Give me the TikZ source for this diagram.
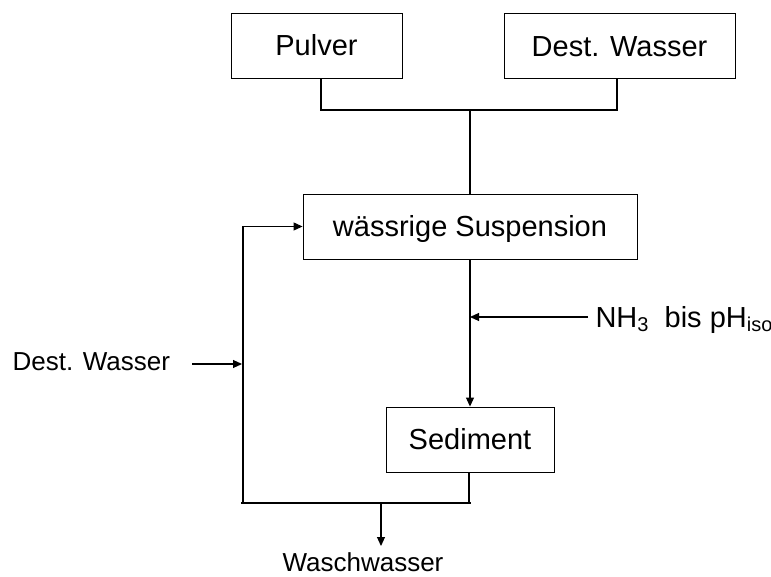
\documentclass[tikz,border=0pt]{standalone}
\usepackage{fontspec}
\setmainfont{Liberation Sans}
\usetikzlibrary{arrows.meta}
% lowered subscript set in a fixed smaller size
\newcommand\lowidx[1]{\raisebox{-4pt}{\fontsize{20}{20}\selectfont #1}}
\begin{document}
\begin{tikzpicture}[x=1pt,y=-1pt,
  line width=1.1pt,
  box/.style={draw, line width=0.9pt, inner sep=0pt, minimum height=65pt,
    text height=20.8pt, text depth=0pt, font=\fontsize{29}{34}\selectfont},
  lbl/.style={inner sep=0pt, font=\fontsize{26}{31}\selectfont},
  tip/.style={-{Triangle[length=9pt,width=8pt]}}]
\useasboundingbox (0,0) rectangle (771,577);

% process boxes
\node[box, minimum width=171pt] (pulver) at (316.5,45.5) {Pulver};
\node[box, minimum width=231pt] (dest)   at (619.5,46)   {Dest. Wasser};
\node[box, minimum width=334pt] (susp)   at (470,226.5)  {wässrige Suspension};
\node[box, minimum width=168pt] (sed)    at (470,439.5)  {Sediment};

% free labels
\node[lbl, anchor=base west] (dw)   at (12,370)    {Dest. Wasser};
\node[lbl, anchor=base west] (wash) at (282,571) {Waschwasser};
\node[inner sep=0pt, anchor=base west, font=\fontsize{29}{34}\selectfont] (nh)
  at (595,327) {NH\lowidx{3}\ \ bis pH\lowidx{iso}};

% junction points
\coordinate (jp) at (321,110);
\coordinate (jd) at (617,110);
\coordinate (jm) at (470,110);
\coordinate (lb) at (243,503);
\coordinate (sb) at (469,503);
\coordinate (wo) at (381,503);
\coordinate (we) at (381,546);
\coordinate (da) at (192,364);
\coordinate (na) at (588,317);

% merging the two feeds
\draw (pulver.south -| jp) -- (jp) -- (jd) -- (dest.south -| jd);
\draw (jm) -- (susp.north);

% suspension to sediment, ammonia dosing
\draw[tip] (susp.south) -- (sed.north);
\draw[tip] (na) -- (na -| susp.south);

% wash loop
\draw (sed.south -| sb) -- (sb);
\draw ([xshift=-2pt]lb) -- ([xshift=2pt]sb);
\draw[tip] (lb) |- (susp.west);
\draw[tip] (da) -- ([xshift=-1pt]da -| lb);
\draw[tip] (wo) -- (we);
\end{tikzpicture}
\end{document}
